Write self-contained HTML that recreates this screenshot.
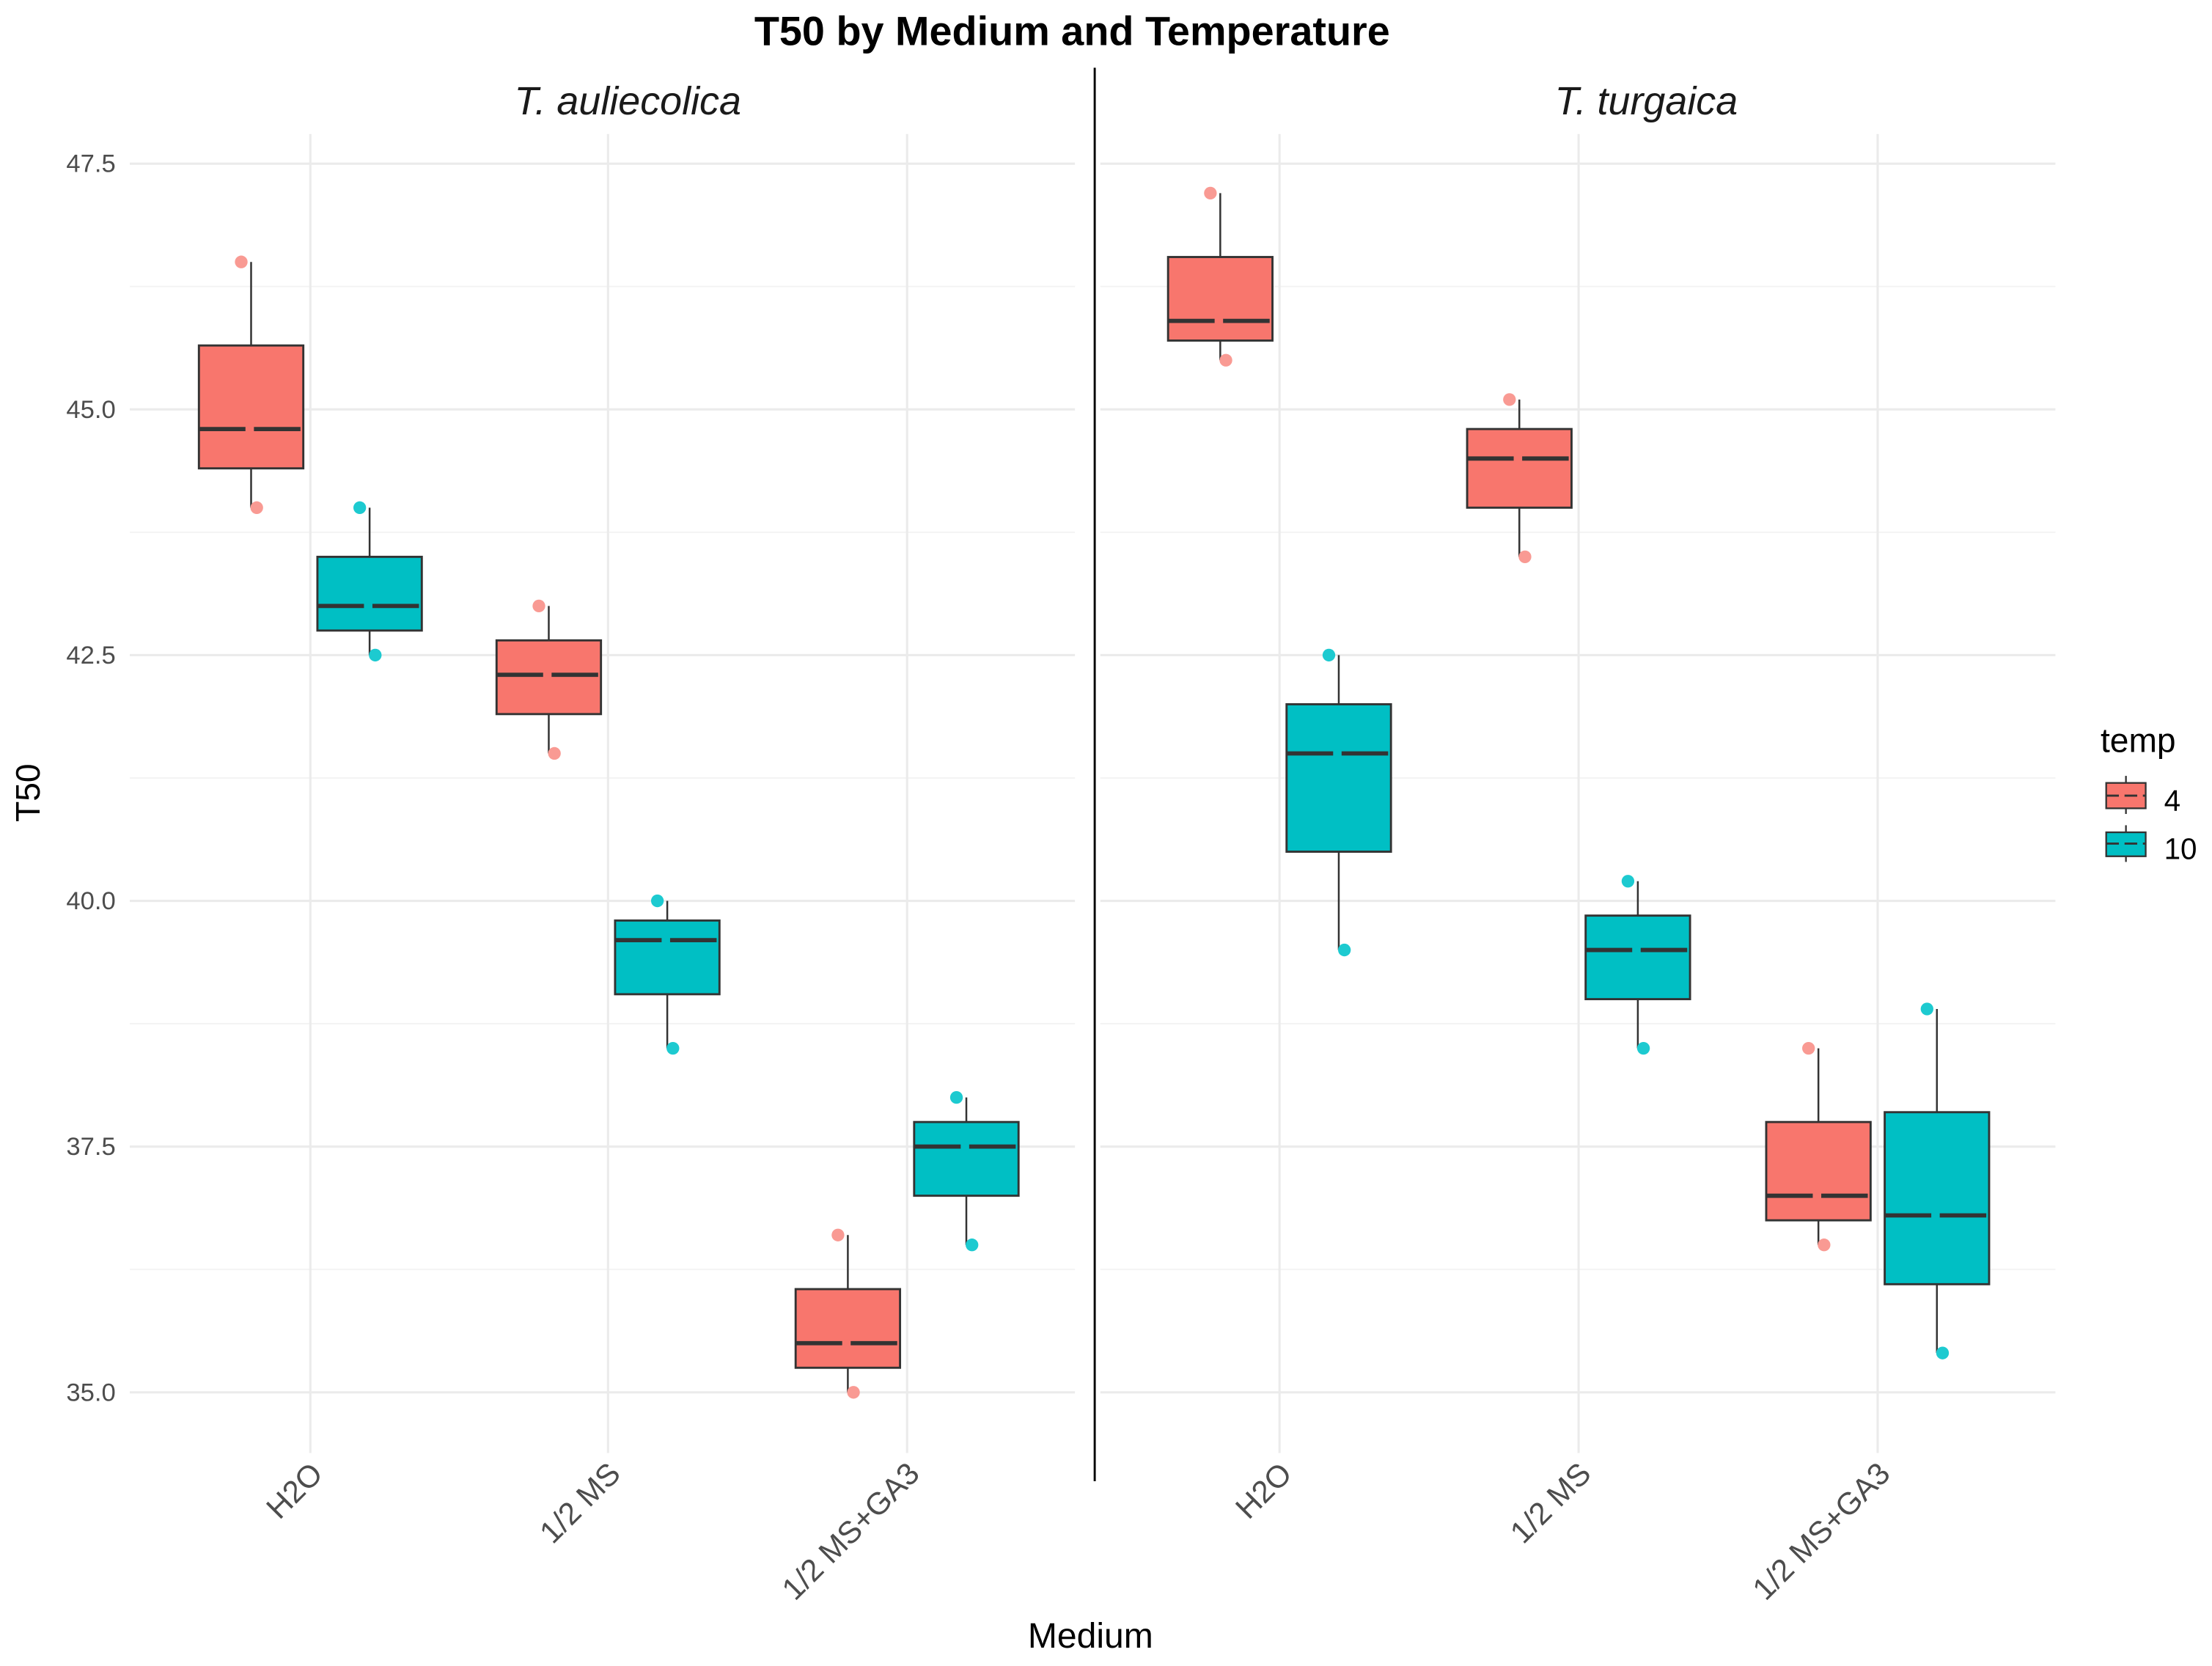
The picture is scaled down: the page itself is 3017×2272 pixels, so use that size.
<!DOCTYPE html>
<html><head><meta charset="utf-8"><style>
html,body{margin:0;padding:0;background:#fff;}
svg{display:block;}
text{font-family:"Liberation Sans",sans-serif;}
</style></head><body>
<svg id="chart" width="3017" height="2272" viewBox="0 0 1568 1181" preserveAspectRatio="none" xmlns="http://www.w3.org/2000/svg">
<text x="760" y="32" text-anchor="middle" font-size="29" font-weight="bold" fill="#000">T50 by Medium and Temperature</text>
<text x="445" y="81" text-anchor="middle" font-size="28" font-style="italic" fill="#1a1a1a">T. auliecolica</text>
<text x="1167" y="81" text-anchor="middle" font-size="28" font-style="italic" fill="#1a1a1a">T. turgaica</text>
<line x1="776" y1="48" x2="776" y2="1050" stroke="#000" stroke-width="1.5"/>
<g id="grid"></g>
<g id="marks"></g>
<g id="axes"></g>
<text transform="translate(28,562) rotate(-90)" text-anchor="middle" font-size="24" fill="#000">T50</text>
<text x="773" y="1168" text-anchor="middle" font-size="25" fill="#000">Medium</text>
<g>
<text x="1489" y="533" font-size="24" fill="#000">temp</text>
<g>
<line x1="1507" y1="550" x2="1507" y2="577" stroke="#333" stroke-width="1.2"/>
<rect x="1493" y="555" width="28" height="18" fill="#F8766D" stroke="#333" stroke-width="1.2"/>
<line x1="1493" y1="564" x2="1521" y2="564" stroke="#333" stroke-width="1.5" stroke-dasharray="9,4"/>
<text x="1534" y="575" font-size="21" fill="#000">4</text>
</g>
<g>
<line x1="1507" y1="585" x2="1507" y2="611" stroke="#333" stroke-width="1.2"/>
<rect x="1493" y="590" width="28" height="17" fill="#00BFC4" stroke="#333" stroke-width="1.2"/>
<line x1="1493" y1="598" x2="1521" y2="598" stroke="#333" stroke-width="1.5" stroke-dasharray="9,4"/>
<text x="1534" y="609" font-size="21" fill="#000">10</text>
</g>
</g>
</svg>
<script>
const categories = ["H2O", "1/2 MS", "1/2 MS+GA3"];
const panels = ["T. auliecolica", "T. turgaica"];
const temps = ["4", "10"];
const yTicks = [35.0, 37.5, 40.0, 42.5, 45.0, 47.5];
const yTickLabels = ["35.0", "37.5", "40.0", "42.5", "45.0", "47.5"];
// per panel, per category, per temp: [min, q1, median, q3, max]
const auliecolica4 = [[44.0,44.4,44.8,45.65,46.5],[41.5,41.9,42.3,42.65,43.0],[35.0,35.25,35.5,36.05,36.6]];
const auliecolica10 = [[42.5,42.75,43.0,43.5,44.0],[38.5,39.05,39.6,39.8,40.0],[36.5,37.0,37.5,37.75,38.0]];
const turgaica4 = [[45.5,45.7,45.9,46.55,47.2],[43.5,44.0,44.5,44.8,45.1],[36.5,36.75,37.0,37.75,38.5]];
const turgaica10 = [[39.5,40.5,41.5,42.0,42.5],[38.5,39.0,39.5,39.85,40.2],[35.4,36.1,36.8,37.85,38.9]];
const seriesData = [[auliecolica4, auliecolica10],[turgaica4, turgaica10]];

const NS = "http://www.w3.org/2000/svg";
const colors = ["#F8766D", "#00BFC4"];
const pointColors = ["#F99A93", "#1DCAD0"];
const panelX = [[92, 762], [780, 1457]];
const catCenters = [[220, 431, 643], [907, 1119, 1331]];
function yScale(v) { return 987 - (v - 35.0) * (871 / 12.5); }
function xScale(p, c, t) { return catCenters[p][c] + (t === 0 ? -42 : 42); }
function mk(tag, attrs, parent) {
  const e = document.createElementNS(NS, tag);
  for (const k in attrs) e.setAttribute(k, attrs[k]);
  parent.appendChild(e);
  return e;
}
const grid = document.getElementById("grid");
const marks = document.getElementById("marks");
const axes = document.getElementById("axes");
for (let p = 0; p < 2; p++) {
  for (let i = 0; i < yTicks.length; i++) {
    const y = yScale(yTicks[i]);
    const g = mk("line", {x1: panelX[p][0], x2: panelX[p][1], y1: y, y2: y, stroke: "#ebebeb", "stroke-width": 1.6}, grid);
    
    
    if (i < yTicks.length - 1) {
      const ym = yScale((yTicks[i] + yTicks[i + 1]) / 2);
      const gm = mk("line", {x1: panelX[p][0], x2: panelX[p][1], y1: ym, y2: ym, stroke: "#f3f3f3", "stroke-width": 1}, grid);
      
      
    }
  }
  for (let c = 0; c < categories.length; c++) {
    const x = catCenters[p][c];
    const v = mk("line", {x1: x, x2: x, y1: 95, y2: 1030, stroke: "#ebebeb", "stroke-width": 1.6}, grid);
    
    
    const t = mk("text", {transform: "translate(" + (x + 10) + ",1046) rotate(-45)", "text-anchor": "end", "font-size": "22", fill: "#4d4d4d"}, axes);
    t.textContent = categories[c];
    
    
  }
}
for (let i = 0; i < yTicks.length; i++) {
  const t = mk("text", {x: 82, y: yScale(yTicks[i]) + 6, "text-anchor": "end", "font-size": "18", fill: "#4d4d4d"}, axes);
  t.textContent = yTickLabels[i];
  
  
}
const pointJitter = [-14, 4];
const hw = 37;
for (let p = 0; p < 2; p++) {
  for (let t = 0; t < 2; t++) {
    for (let c = 0; c < categories.length; c++) {
      const d = seriesData[p][t][c];
      const x = xScale(p, c, t);
      const g = mk("g", {}, marks);
      
      
      mk("line", {x1: x, x2: x, y1: yScale(d[4]), y2: yScale(d[3]), stroke: "#333", "stroke-width": 1.3}, g);
      mk("line", {x1: x, x2: x, y1: yScale(d[1]), y2: yScale(d[0]), stroke: "#333", "stroke-width": 1.3}, g);
      mk("rect", {x: x - hw, y: yScale(d[3]), width: hw * 2, height: yScale(d[1]) - yScale(d[3]), fill: colors[t], stroke: "#333", "stroke-width": 1.5}, g);
      mk("line", {x1: x - hw, x2: x + hw, y1: yScale(d[2]), y2: yScale(d[2]), stroke: "#333", "stroke-width": 3, "stroke-dasharray": "33,6"}, g);
      const pt1 = mk("circle", {cx: x + pointJitter[0] / 2, cy: yScale(d[4]), r: 4.5, fill: pointColors[t]}, g);
      
      
      const pt2 = mk("circle", {cx: x + pointJitter[1], cy: yScale(d[0]), r: 4.5, fill: pointColors[t]}, g);
      
      
    }
  }
}
</script>
</body></html>
